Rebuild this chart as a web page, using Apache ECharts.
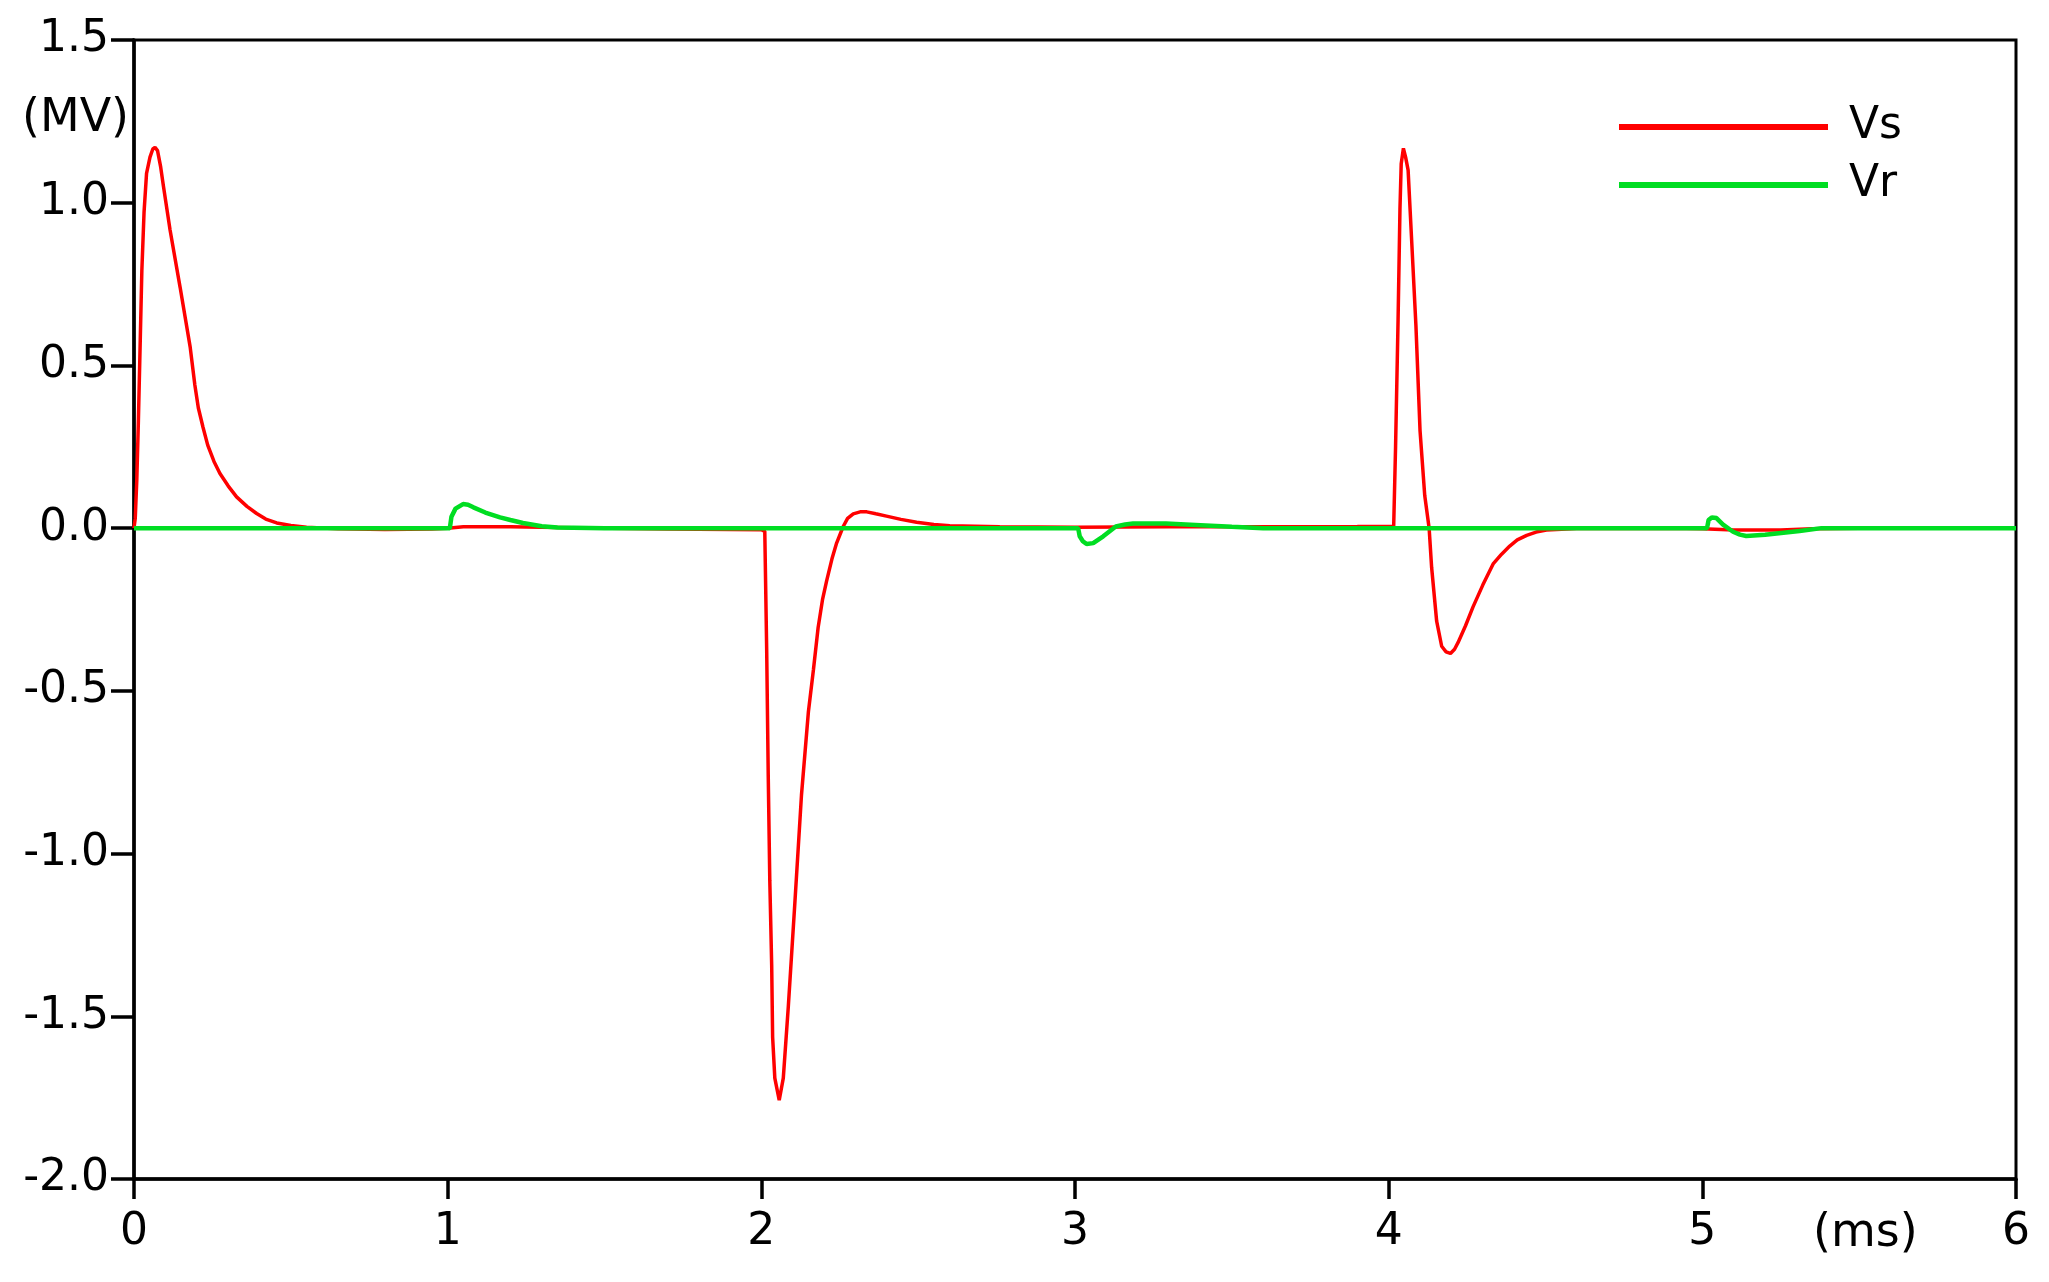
<!DOCTYPE html>
<html>
<head>
<meta charset="utf-8">
<script src="https://cdn.jsdelivr.net/npm/echarts@6/dist/echarts.min.js"></script>
<style>
html,body{margin:0;padding:0;background:#fff;}
#chart{width:2049px;height:1282px;}
</style>
</head>
<body>
<div id="chart"></div>
<script>
// ---- Data (time in ms, voltage in MV) ----
const seriesNames = ['Vs', 'Vr'];
const xTicks = [0, 1, 2, 3, 4, 5, 6];
const yTicks = [-2.0, -1.5, -1.0, -0.5, 0.0, 0.5, 1.0, 1.5];

const vsTime = [0,0.004,0.009,0.014,0.020,0.025,0.032,0.040,0.051,0.060,0.067,0.075,0.085,0.094,0.115,0.147,0.179,0.194,0.205,0.220,0.235,0.255,0.274,0.300,0.327,0.360,0.391,0.420,0.455,0.50,0.55,0.65,0.80,0.95,1.0,1.05,1.2,1.4,1.7,2.0,
2.011,2.017,2.022,2.027,2.033,2.036,2.043,2.057,2.070,2.086,2.107,2.128,2.150,2.166,2.181,2.195,2.208,2.225,2.240,2.261,2.275,2.293,2.315,2.336,2.365,2.399,2.445,2.495,2.55,2.601,2.76,3.0,3.3,3.6,3.9,
4.016,4.022,4.030,4.036,4.040,4.047,4.054,4.062,4.074,4.087,4.100,4.115,4.129,4.137,4.153,4.169,4.183,4.197,4.210,4.221,4.245,4.269,4.300,4.333,4.360,4.386,4.410,4.440,4.470,4.503,4.6,4.9,5.0,5.1,5.25,5.35,5.5,6.0];
const vsValue = [0,0.03,0.15,0.33,0.58,0.79,0.97,1.09,1.14,1.165,1.17,1.16,1.11,1.05,0.916,0.74,0.557,0.44,0.37,0.31,0.255,0.205,0.168,0.13,0.096,0.067,0.045,0.028,0.016,0.008,0.003,-0.002,-0.004,-0.003,0.0,0.004,0.004,0.001,-0.003,-0.005,
-0.01,-0.37,-0.76,-1.084,-1.343,-1.564,-1.69,-1.758,-1.69,-1.47,-1.15,-0.82,-0.565,-0.436,-0.306,-0.22,-0.163,-0.095,-0.046,0.005,0.030,0.044,0.050,0.050,0.044,0.037,0.027,0.018,0.011,0.007,0.004,0.003,0.004,0.004,0.005,
0.006,0.25,0.64,0.98,1.12,1.167,1.14,1.10,0.87,0.62,0.30,0.10,0,-0.121,-0.286,-0.363,-0.38,-0.385,-0.372,-0.352,-0.30,-0.242,-0.175,-0.110,-0.08,-0.055,-0.036,-0.022,-0.012,-0.006,-0.001,0.0,-0.002,-0.006,-0.006,-0.002,0,0];

const vrTime = [0,1.0,1.007,1.012,1.025,1.049,1.065,1.082,1.12,1.167,1.20,1.24,1.30,1.35,1.5,3.0,3.010,3.015,3.025,3.037,3.058,3.09,3.13,3.16,3.185,3.29,3.40,3.5,3.6,5.015,5.020,5.030,5.045,5.066,5.098,5.12,5.14,5.20,5.31,5.38,6.0];
const vrValue = [0,0,0,0.035,0.06,0.074,0.072,0.064,0.048,0.033,0.025,0.016,0.006,0.002,0,0,0,-0.025,-0.040,-0.049,-0.046,-0.025,0.005,0.011,0.014,0.014,0.009,0.004,0,0,0.025,0.033,0.031,0.011,-0.011,-0.02,-0.024,-0.02,-0.009,0,0];

const colors = ['#ff0000', '#00dd22'];

const pair = (ts, vs) => ts.map((t, i) => [t, vs[i]]);
const FONT = 'DejaVu Sans';

const chart = echarts.init(document.getElementById('chart'), null, {renderer: 'canvas'});
chart.setOption({
  animation: false,
  backgroundColor: '#fff',
  grid: {
    left: 134, right: 33, top: 40, bottom: 103,
    show: true, borderColor: '#000', borderWidth: 3, backgroundColor: 'transparent'
  },
  legend: {
    orient: 'vertical',
    left: 1614, top: 99,
    itemWidth: 209, itemHeight: 6, itemGap: 12,
    icon: 'rect',
    data: seriesNames,
    textStyle: {fontFamily: FONT, fontSize: 44, color: '#000', lineHeight: 46, padding: [0, 0, 0, 16]}
  },
  xAxis: {
    type: 'value', min: xTicks[0], max: xTicks[xTicks.length - 1], interval: 1,
    axisLine: {show: true, onZero: false, lineStyle: {color: '#000', width: 3.5}},
    axisTick: {show: true, inside: false, length: 20, lineStyle: {color: '#000', width: 3.5}},
    axisLabel: {fontFamily: FONT, fontSize: 44, color: '#000', margin: 32},
    splitLine: {show: false}
  },
  yAxis: {
    type: 'value', min: yTicks[0], max: yTicks[yTicks.length - 1], interval: 0.5,
    axisLine: {show: true, onZero: false, lineStyle: {color: '#000', width: 3.5}},
    axisTick: {show: true, inside: false, length: 23, lineStyle: {color: '#000', width: 3.5}},
    axisLabel: {fontFamily: FONT, fontSize: 44, color: '#000', margin: 25, formatter: v => v.toFixed(1)},
    splitLine: {show: false}
  },
  graphic: [
    {type: 'text', left: 22, top: 96, style: {text: '(MV)', font: '46px "DejaVu Sans"', fill: '#000'}},
    {type: 'text', left: 1813, top: 1211, style: {text: '(ms)', font: '46px "DejaVu Sans"', fill: '#000'}}
  ],
  series: [
    {name: seriesNames[0], type: 'line', data: pair(vsTime, vsValue), showSymbol: false, symbol: 'none',
     lineStyle: {color: colors[0], width: 3.5}, itemStyle: {color: colors[0]}, z: 2},
    {name: seriesNames[1], type: 'line', data: pair(vrTime, vrValue), showSymbol: false, symbol: 'none',
     lineStyle: {color: colors[1], width: 4.5}, itemStyle: {color: colors[1]}, z: 3}
  ]
});
</script>
</body>
</html>
